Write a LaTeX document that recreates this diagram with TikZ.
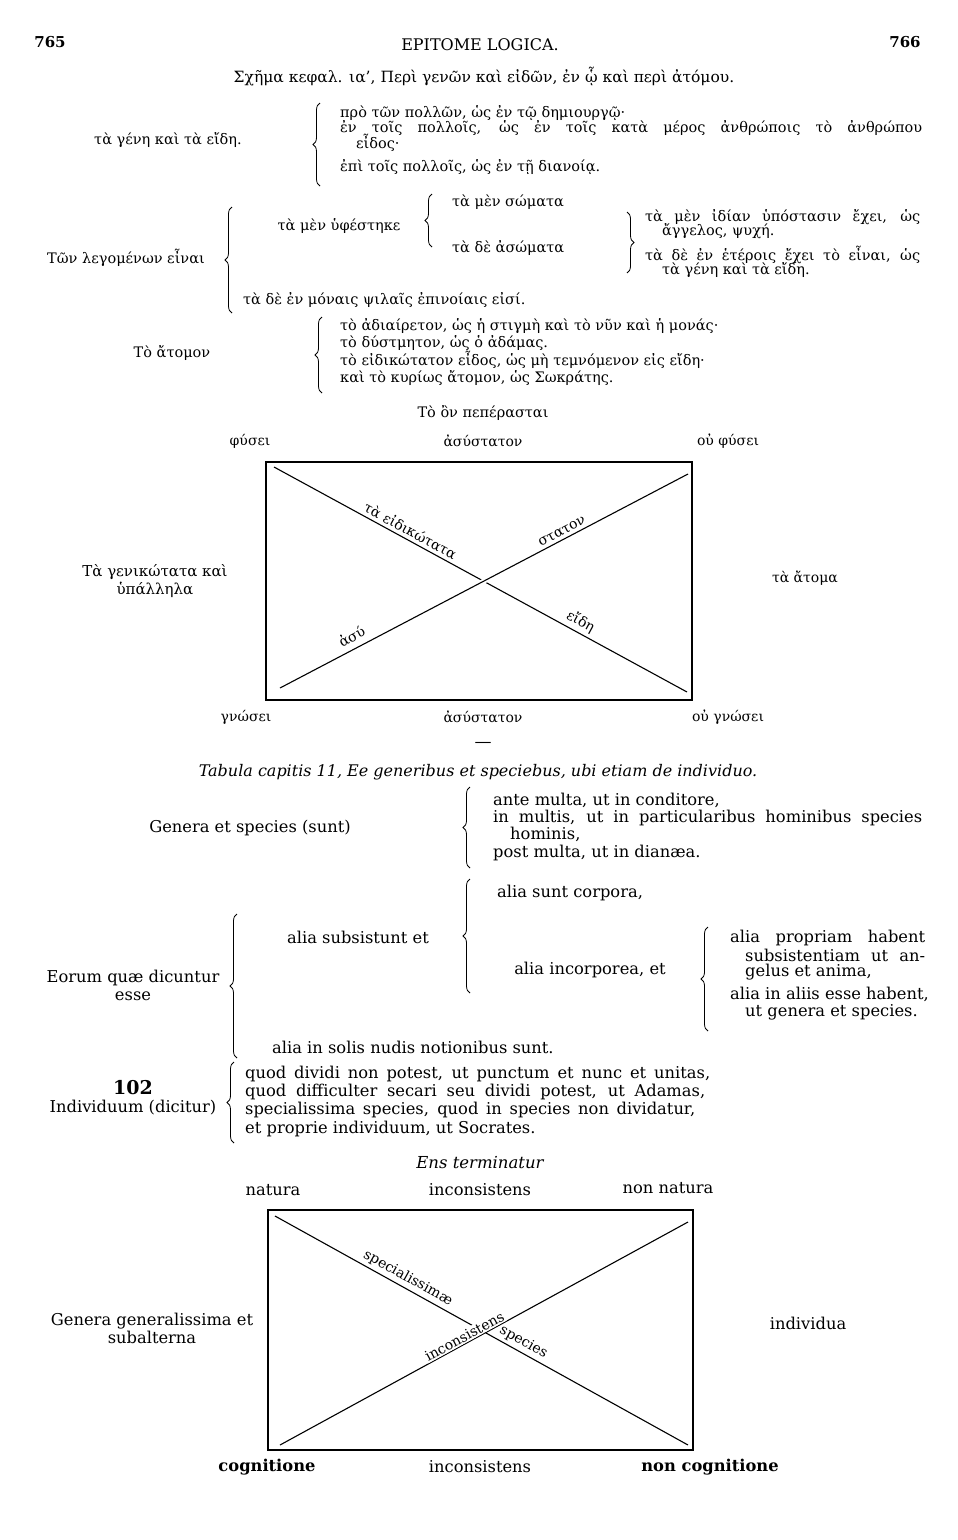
\documentclass[tikz,border=0pt]{standalone}
\usepackage{fontspec}
\setmainfont{DejaVu Serif}
\usetikzlibrary{calc,decorations.pathreplacing,positioning}

\begin{document}
\begin{tikzpicture}[x=1pt,y=-1pt,
    gr/.style={font=\fontsize{14.5}{15}\selectfont,inner sep=0pt,anchor=west},
    la/.style={font=\fontsize{16.3}{18}\selectfont,inner sep=0pt,anchor=west},
    grlab/.style={gr,anchor=center,align=center},
    lalab/.style={la,anchor=center,align=center},
    corner/.style={grlab,font=\fontsize{14}{15}\selectfont},
    onln/.style={sloped,above,inner sep=3pt,font=\fontsize{14}{15}\selectfont},
    brc/.style={decorate,decoration={brace,amplitude=7pt},line width=0.8pt},
    frame/.style={line width=1.3pt},
    diag/.style={line width=1.1pt}
  ]
  \fill[white] (0,0) rectangle (958,1540);
  \useasboundingbox (0,0) rectangle (958,1540);

  % page head
  \node[inner sep=0pt,font=\fontsize{15}{17}\selectfont\bfseries] (pl) at (50,42) {765};
  \node[inner sep=0pt,font=\fontsize{16}{18}\selectfont] (head) at (480,45) {EPITOME LOGICA.};
  \node[inner sep=0pt,font=\fontsize{15}{17}\selectfont\bfseries] (pr) at (905,42) {766};
  \node[grlab,font=\fontsize{15.5}{17}\selectfont] (gtitle) at (484,77) {Σχῆμα κεφαλ. ια', Περὶ γενῶν καὶ εἰδῶν, ἐν ᾧ καὶ περὶ ἀτόμου.};

  % genera et species (greek)
  \node[grlab] (gge) at (168,140) {τὰ γένη καὶ τὰ εἴδη.};
  \node[gr] (gg1) at (340,113) {πρὸ τῶν πολλῶν, ὡς ἐν τῷ δημιουργῷ·};
  \node[gr] (gg2) at (340,128) {\makebox[582pt][s]{ἐν τοῖς πολλοῖς, ὡς ἐν τοῖς κατὰ μέρος ἀνθρώποις τὸ ἀνθρώπου}};
  \node[gr] (gg3) at (356,143) {εἶδος·};
  \node[gr] (gg4) at (340,167) {ἐπὶ τοῖς πολλοῖς, ὡς ἐν τῇ διανοίᾳ.};
  \coordinate (gb1-bot) at (320,186);
  \coordinate (gb1-top) at (320,103);
  \draw[brc] (gb1-bot) -- (gb1-top);

  % quae dicuntur esse (greek)
  \node[grlab] (glego) at (126,258) {Τῶν λεγομένων εἶναι};
  \node[grlab] (ghyph) at (339,226) {τὰ μὲν ὑφέστηκε};
  \node[gr] (gsom) at (452,202) {τὰ μὲν σώματα};
  \node[gr] (gasom) at (452,248) {τὰ δὲ ἀσώματα};
  \node[gr] (gidi1) at (645,217) {\makebox[275pt][s]{τὰ μὲν ἰδίαν ὑπόστασιν ἔχει, ὡς}};
  \node[gr] (gidi2) at (662,231) {ἄγγελος, ψυχή.};
  \node[gr] (gete1) at (645,255) {\makebox[275pt][s]{τὰ δὲ ἐν ἑτέροις ἔχει τὸ εἶναι, ὡς}};
  \node[gr] (gete2) at (662,270) {τὰ γένη καὶ τὰ εἴδη.};
  \node[gr] (gpsil) at (243,300) {τὰ δὲ ἐν μόναις ψιλαῖς ἐπινοίαις εἰσί.};
  \coordinate (gb2-bot) at (232,313);
  \coordinate (gb2-top) at (232,207);
  \coordinate (gb3-bot) at (432,247);
  \coordinate (gb3-top) at (432,194);
  \coordinate (gb4-bot) at (627,273);
  \coordinate (gb4-top) at (627,212);
  \draw[brc] (gb2-bot) -- (gb2-top);
  \draw[brc] (gb3-bot) -- (gb3-top);
  \draw[brc] (gb4-top) -- (gb4-bot);

  % individuum (greek)
  \node[grlab] (gatom) at (172,353) {Τὸ ἄτομον};
  \node[gr] (ga1) at (340,326) {τὸ ἀδιαίρετον, ὡς ἡ στιγμὴ καὶ τὸ νῦν καὶ ἡ μονάς·};
  \node[gr] (ga2) at (340,343) {τὸ δύστμητον, ὡς ὁ ἀδάμας.};
  \node[gr] (ga3) at (340,360) {τὸ εἰδικώτατον εἶδος, ὡς μὴ τεμνόμενον εἰς εἴδη·};
  \node[gr] (ga4) at (340,378) {καὶ τὸ κυρίως ἄτομον, ὡς Σωκράτης.};
  \coordinate (gb5-bot) at (322,393);
  \coordinate (gb5-top) at (322,317);
  \draw[brc] (gb5-bot) -- (gb5-top);

  % greek square
  \node[grlab] (gon) at (483,413) {Τὸ ὂν πεπέρασται};
  \coordinate (ga-tl) at (266,462);
  \coordinate (ga-br) at (692,700);
  \coordinate (ga-d1s) at (274,467);
  \coordinate (ga-d1e) at (687,692);
  \coordinate (ga-d2s) at (280,688);
  \coordinate (ga-d2e) at (688,474);
  \draw[frame] (ga-tl) rectangle (ga-br);
  \draw[diag] (ga-d1s) -- node[onln,pos=0.32] (gspec) {τὰ εἰδικώτατα}
    node[onln,pos=0.73] (geide) {εἴδη} (ga-d1e);
  \draw[white,line width=5pt] ($(ga-d2s)!0.48!(ga-d2e)$) -- ($(ga-d2s)!0.52!(ga-d2e)$);
  \draw[diag] (ga-d2s) -- node[onln,pos=0.19,yshift=3pt] (gasy) {ἀσύ}
    node[onln,pos=0.70] (gstat) {στατον} (ga-d2e);
  \node[corner] (gphy) at (250,441) {φύσει};
  \node[corner] (gasyt) at (483,441) {ἀσύστατον};
  \node[corner] (goph) at (728,441) {οὐ φύσει};
  \node[corner] (ggno) at (246,717) {γνώσει};
  \node[corner] (gasyb) at (483,717) {ἀσύστατον};
  \node[corner] (gogn) at (728,717) {οὐ γνώσει};
  \node[grlab,font=\fontsize{15}{18}\selectfont] (ggen) at (155,581) {Τὰ γενικώτατα καὶ\\ὑπάλληλα};
  \node[corner] (gatoma) at (805,578) {τὰ ἄτομα};
  \node[inner sep=0pt,font=\fontsize{17}{18}\selectfont] (dash) at (483,745) {—};

  % tabula (latin)
  \node[lalab,font=\fontsize{16}{18}\selectfont\itshape] (ltitle) at (478,772)
    {Tabula capitis 11, Ee generibus et speciebus, ubi etiam de individuo.};
  \node[lalab] (lge) at (250,828) {Genera et species (sunt)};
  \node[la] (lg1) at (493,800) {ante multa, ut in conditore,};
  \node[la] (lg2) at (493,818) {\makebox[429pt][s]{in multis, ut in particularibus hominibus species}};
  \node[la] (lg3) at (510,834) {hominis,};
  \node[la] (lg4) at (493,853) {post multa, ut in dianæa.};
  \coordinate (lb1-bot) at (470,868);
  \coordinate (lb1-top) at (470,787);
  \draw[brc] (lb1-bot) -- (lb1-top);

  \node[lalab] (lesse) at (133,985) {Eorum quæ dicuntur\\esse};
  \node[lalab] (lsub) at (358,937) {alia subsistunt et};
  \node[la] (lcorp) at (497,893) {alia sunt corpora,};
  \node[lalab] (linc) at (590,970) {alia incorporea, et};
  \node[la] (lp1) at (730,938) {\makebox[195pt][s]{alia propriam habent}};
  \node[la] (lp2) at (745,955) {\makebox[180pt][s]{subsistentiam ut an-}};
  \node[la] (lp3) at (745,972) {gelus et anima,};
  \node[la] (lp4) at (730,994) {alia in aliis esse habent,};
  \node[la] (lp5) at (745,1012) {ut genera et species.};
  \node[la] (lsol) at (272,1047) {alia in solis nudis notionibus sunt.};
  \coordinate (lb2-bot) at (237,1058);
  \coordinate (lb2-top) at (237,914);
  \coordinate (lb3-bot) at (470,993);
  \coordinate (lb3-top) at (470,879);
  \coordinate (lb4-bot) at (708,1031);
  \coordinate (lb4-top) at (708,927);
  \draw[brc] (lb2-bot) -- (lb2-top);
  \draw[brc] (lb3-bot) -- (lb3-top);
  \draw[brc] (lb4-bot) -- (lb4-top);

  \node[lalab,font=\fontsize{19}{20}\selectfont\bfseries] (lnum) at (133,1088) {102};
  \node[lalab] (lind) at (133,1108) {Individuum (dicitur)};
  \node[la] (li1) at (245,1074) {\makebox[465pt][s]{quod dividi non potest, ut punctum et nunc et unitas,}};
  \node[la] (li2) at (245,1092) {\makebox[460pt][s]{quod difficulter secari seu dividi potest, ut Adamas,}};
  \node[la] (li3) at (245,1110) {\makebox[450pt][s]{specialissima species, quod in species non dividatur,}};
  \node[la] (li4) at (245,1129) {et proprie individuum, ut Socrates.};
  \coordinate (lb5-bot) at (234,1143);
  \coordinate (lb5-top) at (234,1062);
  \draw[brc] (lb5-bot) -- (lb5-top);

  % latin square
  \node[lalab,font=\fontsize{16.5}{18}\selectfont\itshape] (lens) at (480,1163) {Ens terminatur};
  \coordinate (la-tl) at (268,1210);
  \coordinate (la-br) at (693,1450);
  \coordinate (la-d1s) at (275,1216);
  \coordinate (la-d1e) at (688,1445);
  \coordinate (la-d2s) at (280,1445);
  \coordinate (la-d2e) at (688,1222);
  \draw[frame] (la-tl) rectangle (la-br);
  \draw[diag] (la-d1s) -- node[onln,pos=0.31] (lspec) {specialissimæ}
    node[onln,pos=0.59] (lspc) {species} (la-d1e);
  \draw[diag] (la-d2s) -- node[onln,pos=0.46,fill=white,inner sep=1pt] (linco) {inconsistens} (la-d2e);
  \node[lalab] (lnat) at (273,1190) {natura};
  \node[lalab] (linct) at (480,1190) {inconsistens};
  \node[lalab] (lnnat) at (668,1188) {non natura};
  \node[lalab,font=\fontsize{16.3}{18}\selectfont\bfseries] (lcog) at (267,1467) {cognitione};
  \node[lalab] (lincb) at (480,1467) {inconsistens};
  \node[lalab,font=\fontsize{16.3}{18}\selectfont\bfseries] (lncog) at (710,1467) {non cognitione};
  \node[lalab] (lgen) at (152,1328) {Genera generalissima et\\subalterna};
  \node[lalab] (lindv) at (808,1323) {individua};
\end{tikzpicture}
\end{document}
